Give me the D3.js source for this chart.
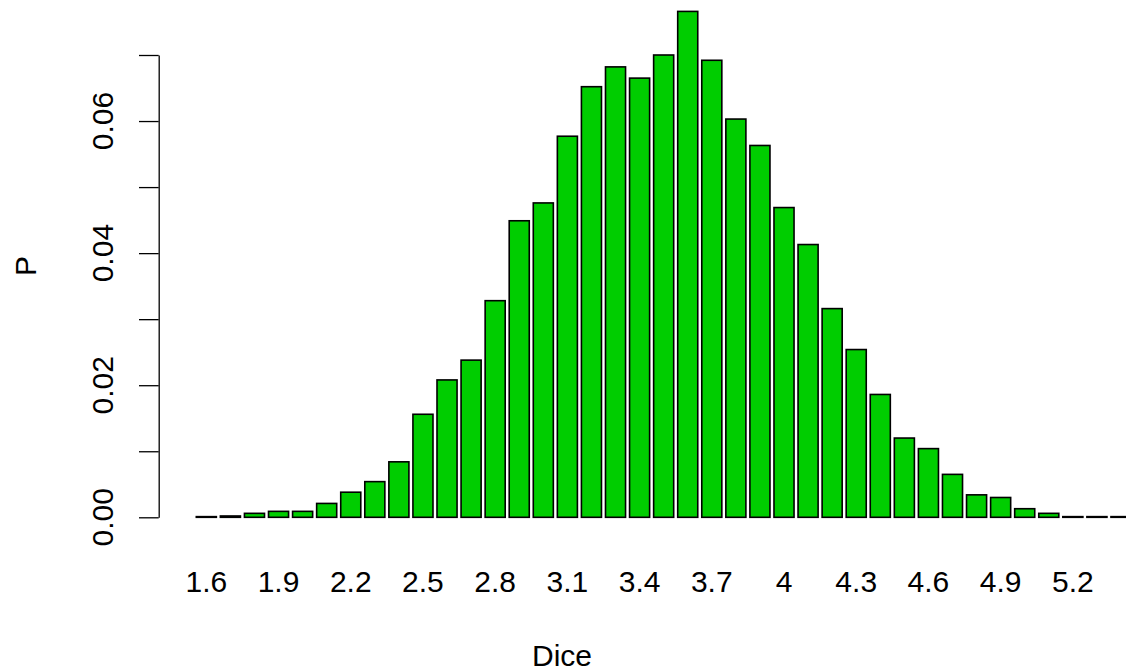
<!DOCTYPE html>
<html>
<head>
<meta charset="utf-8">
<script src="https://cdn.jsdelivr.net/npm/d3@7"></script>
<style>
  html, body { margin: 0; padding: 0; background: #ffffff; }
  svg { display: block; }
  text { font-family: "Liberation Sans", Arial, Helvetica, sans-serif; fill: #000; }
</style>
</head>
<body>
<svg id="chart" width="1126" height="672"></svg>
<script>
// Mean of dice throws and the probability of each value
const categories = ["1.6","1.7","1.8","1.9","2","2.1","2.2","2.3","2.4","2.5",
                    "2.6","2.7","2.8","2.9","3","3.1","3.2","3.3","3.4","3.5",
                    "3.6","3.7","3.8","3.9","4","4.1","4.2","4.3","4.4","4.5",
                    "4.6","4.7","4.8","4.9","5","5.1","5.2","5.3","5.4"];
const probabilities = [0.0001, 0.0002, 0.0006, 0.0009, 0.0009, 0.0021, 0.0038, 0.0054, 0.0084, 0.0156,
                       0.0208, 0.0238, 0.0328, 0.0449, 0.0476, 0.0577, 0.0652, 0.0682, 0.0665, 0.0700,
                       0.0766, 0.0692, 0.0603, 0.0563, 0.0469, 0.0413, 0.0316, 0.0254, 0.0186, 0.0120,
                       0.0104, 0.0065, 0.0034, 0.0030, 0.0013, 0.0006, 0.0001, 0.0001, 0.0001];
// Category names that fit under the bars
const xTickLabels = ["1.6","1.9","2.2","2.5","2.8","3.1","3.4","3.7","4","4.3","4.6","4.9","5.2"];
const yTicks = [0, 0.01, 0.02, 0.03, 0.04, 0.05, 0.06, 0.07];
const yTickLabels = [0, 0.02, 0.04, 0.06];

const svg = d3.select("#chart");
const fontSize = 30;

const step = 24.07;
const x = d3.scaleBand()
  .domain(categories)
  .range([196.3, 196.3 + step * (categories.length - 1 / 6)])
  .paddingInner(1 / 6)
  .paddingOuter(0);

const y = d3.scaleLinear().domain([0, 0.07]).range([517.3, 55.0]);

// bars
svg.append("g")
  .selectAll("rect")
  .data(categories.map((c, i) => ({ c, v: probabilities[i] })))
  .join("rect")
  .attr("x", d => x(d.c))
  .attr("y", d => y(d.v))
  .attr("width", x.bandwidth())
  .attr("height", d => y(0) - y(d.v))
  .attr("fill", "#00CD00")
  .attr("stroke", "#000")
  .attr("stroke-width", 1.6);

// y axis
const yAxis = d3.axisLeft(y)
  .tickValues(yTicks)
  .tickSize(19.7)
  .tickSizeOuter(0)
  .tickFormat("");
const gy = svg.append("g")
  .attr("transform", "translate(158.7,0)")
  .call(yAxis);
gy.select(".domain").attr("stroke", "#000").attr("stroke-width", 1.3);
gy.selectAll(".tick line").attr("stroke", "#000").attr("stroke-width", 1.3);

svg.append("g")
  .selectAll("text")
  .data(yTickLabels)
  .join("text")
  .attr("transform", d => `translate(113.3,${y(d)}) rotate(-90)`)
  .attr("text-anchor", "middle")
  .attr("font-size", fontSize)
  .text(d => d3.format(".2f")(d));

// category names
svg.append("g")
  .selectAll("text")
  .data(xTickLabels)
  .join("text")
  .attr("x", d => x(d) + x.bandwidth() / 2)
  .attr("y", 591.7)
  .attr("text-anchor", "middle")
  .attr("font-size", fontSize)
  .text(d => d);

// axis titles
svg.append("text")
  .attr("x", 562)
  .attr("y", 666)
  .attr("text-anchor", "middle")
  .attr("font-size", fontSize)
  .text("Dice");

svg.append("text")
  .attr("transform", "translate(36,266) rotate(-90)")
  .attr("text-anchor", "middle")
  .attr("font-size", fontSize)
  .text("P");
</script>
</body>
</html>
